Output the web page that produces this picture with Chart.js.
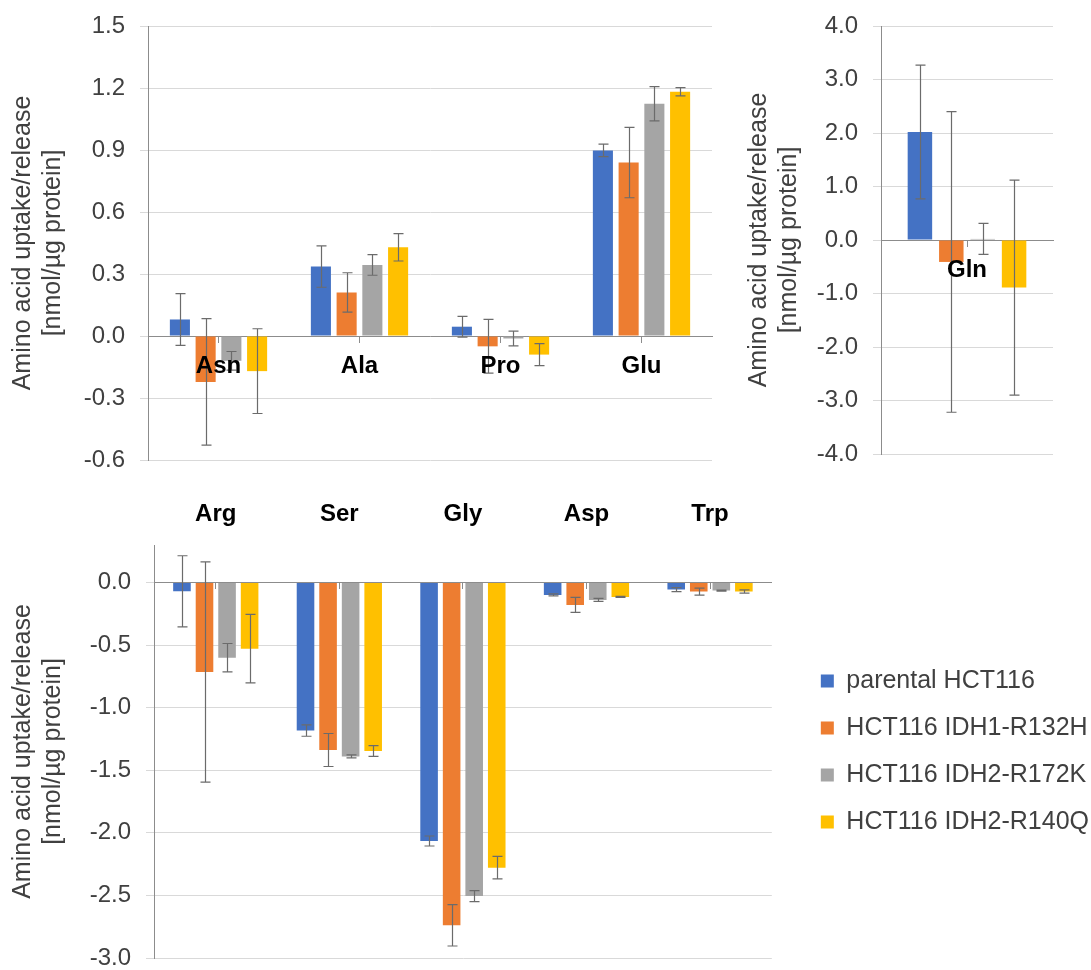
<!DOCTYPE html>
<html>
<head>
<meta charset="utf-8">
<script src="https://cdn.jsdelivr.net/npm/chart.js@4/dist/chart.umd.min.js"></script>
<style>
  html, body { margin: 0; padding: 0; background: #fff; overflow: hidden; width: 1091px; height: 970px; }
  canvas { position: absolute; }
  #topLeft { left: 0; top: 0; }
  #topRight { left: 725px; top: 0; }
  #bottom { left: 0; top: 480px; }
</style>
</head>
<body>
<canvas id="topLeft" width="725" height="480"></canvas>
<canvas id="topRight" width="366" height="480"></canvas>
<canvas id="bottom" width="1099" height="500"></canvas>
<script>
// Cell lines (legend order) and their colours
const seriesNames = ['parental HCT116', 'HCT116 IDH1-R132H', 'HCT116 IDH2-R172K', 'HCT116 IDH2-R140Q'];
const seriesColors = ['#4472C4', '#ED7D31', '#A5A5A5', '#FFC000'];
const yTitle = ['Amino acid uptake/release', '[nmol/µg protein]'];

// Panel A: released / small-flux amino acids
const acidsA = ['Asn', 'Ala', 'Pro', 'Glu'];
const parentalA = [0.08, 0.336, 0.045, 0.898];
const idh1R132hA = [-0.222, 0.211, -0.05, 0.839];
const idh2R172kA = [-0.12, 0.344, -0.012, 1.124];
const idh2R140qA = [-0.17, 0.429, -0.09, 1.182];
const parentalErrA = [0.125, 0.10, 0.05, 0.03];
const idh1R132hErrA = [0.306, 0.095, 0.13, 0.17];
const idh2R172kErrA = [0.045, 0.05, 0.036, 0.083];
const idh2R140qErrA = [0.205, 0.066, 0.053, 0.02];
const ticksA = { min: -0.6, max: 1.5, step: 0.3 };

// Panel B: glutamine
const acidsB = ['Gln'];
const parentalB = [2.017];
const idh1R132hB = [-0.41];
const idh2R172kB = [0.02];
const idh2R140qB = [-0.89];
const parentalErrB = [1.25];
const idh1R132hErrB = [2.81];
const idh2R172kErrB = [0.29];
const idh2R140qErrB = [2.01];
const ticksB = { min: -4, max: 4, step: 1 };

// Panel C: consumed amino acids
const acidsC = ['Arg', 'Ser', 'Gly', 'Asp', 'Trp'];
const parentalC = [-0.07, -1.183, -2.065, -0.099, -0.056];
const idh1R132hC = [-0.715, -1.338, -2.739, -0.179, -0.072];
const idh2R172kC = [-0.6, -1.389, -2.505, -0.139, -0.064];
const idh2R140qC = [-0.528, -1.346, -2.278, -0.115, -0.072];
const parentalErrC = [0.284, 0.045, 0.04, 0.008, 0.016];
const idh1R132hErrC = [0.88, 0.132, 0.165, 0.06, 0.028];
const idh2R172kErrC = [0.113, 0.012, 0.044, 0.012, 0.004];
const idh2R140qErrC = [0.274, 0.043, 0.09, 0.004, 0.013];
const ticksC = { min: -3, max: 0.3, step: 0.5 };

const textColor = '#404040';
const gridColor = '#d9d9d9';
const axisColor = '#8c8c8c';
const errColor = '#6b6b6b';

Chart.defaults.font.family = "'Liberation Sans', Arial, sans-serif";
Chart.defaults.color = textColor;

// Symmetric error bars drawn over each bar from its value and error
const errorBars = {
  id: 'errorBars',
  afterDatasetsDraw(chart) {
    const ctx = chart.ctx;
    const yScale = chart.scales.y;
    ctx.save();
    ctx.strokeStyle = errColor;
    ctx.lineWidth = 1.2;
    chart.data.datasets.forEach((ds, i) => {
      const meta = chart.getDatasetMeta(i);
      if (!ds.errors || meta.hidden) return;
      meta.data.forEach((bar, j) => {
        const v = ds.data[j], e = ds.errors[j];
        const x = Math.round(bar.x) + 0.5;
        const y1 = yScale.getPixelForValue(v + e);
        const y2 = yScale.getPixelForValue(v - e);
        const cap = 5;
        ctx.beginPath();
        ctx.moveTo(x, y1); ctx.lineTo(x, y2);
        ctx.moveTo(x - cap, y1); ctx.lineTo(x + cap, y1);
        ctx.moveTo(x - cap, y2); ctx.lineTo(x + cap, y2);
        ctx.stroke();
      });
    });
    ctx.restore();
  }
};

function makeDatasets(values, errors) {
  return values.map((vals, i) => ({
    label: seriesNames[i],
    data: vals,
    errors: errors[i],
    backgroundColor: seriesColors[i],
    borderWidth: 0,
    categoryPercentage: 0.73,
    barPercentage: 0.78,
    xAxisID: 'x',
    yAxisID: 'y'
  }));
}

function fmt(v) {
  return Math.abs(v) < 1e-9 ? '0.0' : Number(v).toFixed(1);
}

function valueAxis(range, width, titlePad) {
  return {
    type: 'linear',
    position: 'left',
    min: range.min,
    max: range.max,
    ticks: { stepSize: range.step, color: textColor, font: { size: 24 }, padding: 15, callback: fmt },
    grid: { color: gridColor, tickColor: gridColor, tickLength: 8 },
    border: { display: true, color: axisColor },
    title: { display: true, text: yTitle, color: textColor, font: { size: 25 }, padding: { top: titlePad, bottom: 0 } },
    afterFit: (s) => { s.width = width; s.paddingTop = 0; s.paddingBottom = 0; }
  };
}

// Category axis sitting on the zero line, labels just below it (drawn above the bars)
function zeroCategoryAxis() {
  return {
    type: 'category',
    position: { y: 0 },
    grid: { display: true, drawOnChartArea: false, offset: false, tickLength: 6, tickColor: axisColor },
    border: { display: true, color: axisColor },
    ticks: { z: 1, color: '#000', font: { size: 24, weight: 'bold' }, padding: 10, maxRotation: 0, autoSkip: false }
  };
}

const commonOpts = {
  responsive: false,
  animation: false,
  devicePixelRatio: 1,
  events: []
};

// Top-left panel
new Chart(document.getElementById('topLeft'), {
  type: 'bar',
  data: {
    labels: acidsA,
    datasets: makeDatasets([parentalA, idh1R132hA, idh2R172kA, idh2R140qA],
                           [parentalErrA, idh1R132hErrA, idh2R172kErrA, idh2R140qErrA])
  },
  options: Object.assign({}, commonOpts, {
    layout: { padding: { top: 26, bottom: 20, left: 0, right: 13 } },
    plugins: { legend: { display: false }, tooltip: { enabled: false } },
    scales: { x: zeroCategoryAxis(), y: valueAxis(ticksA, 148, 8) }
  }),
  plugins: [errorBars]
});

// Top-right panel (Gln)
new Chart(document.getElementById('topRight'), {
  type: 'bar',
  data: {
    labels: acidsB,
    datasets: makeDatasets([parentalB, idh1R132hB, idh2R172kB, idh2R140qB],
                           [parentalErrB, idh1R132hErrB, idh2R172kErrB, idh2R140qErrB])
  },
  options: Object.assign({}, commonOpts, {
    layout: { padding: { top: 26, bottom: 26, left: 0, right: 38 } },
    plugins: { legend: { display: false }, tooltip: { enabled: false } },
    scales: { x: zeroCategoryAxis(), y: valueAxis(ticksB, 156, 19) }
  }),
  plugins: [errorBars]
});

// Bottom panel with legend
const bottomY = valueAxis(ticksC, 154, 8);
bottomY.afterBuildTicks = (s) => { s.ticks = s.ticks.filter(t => t.value <= 1e-9); };

new Chart(document.getElementById('bottom'), {
  type: 'bar',
  data: {
    labels: acidsC,
    datasets: makeDatasets([parentalC, idh1R132hC, idh2R172kC, idh2R140qC],
                           [parentalErrC, idh1R132hErrC, idh2R172kErrC, idh2R140qErrC])
  },
  options: Object.assign({}, commonOpts, {
    layout: { padding: { top: 0, bottom: 22, left: 0, right: 0 } },
    plugins: {
      tooltip: { enabled: false },
      legend: {
        display: true,
        position: 'right',
        fullSize: false,
        align: 'center',
        maxWidth: 400,
        labels: { boxWidth: 13, boxHeight: 13, padding: 22, color: textColor, font: { size: 25 } }
      }
    },
    scales: {
      x: {
        type: 'category',
        position: 'top',
        grid: { display: false, drawTicks: false },
        border: { display: false },
        ticks: { color: '#000', font: { size: 24, weight: 'bold' }, padding: 16, maxRotation: 0, autoSkip: false },
        afterFit: (s) => { s.height = 65; }
      },
      xZero: {
        type: 'category',
        position: { y: 0 },
        grid: { display: true, drawOnChartArea: false, offset: false, tickLength: 6, tickColor: axisColor },
        border: { display: true, color: axisColor },
        ticks: { display: false }
      },
      y: bottomY,
      gap: {
        type: 'linear',
        position: 'right',
        display: true,
        grid: { display: false, drawTicks: false },
        border: { display: false },
        ticks: { display: false },
        afterFit: (s) => { s.width = 27; s.paddingTop = 0; s.paddingBottom = 0; }
      }
    }
  }),
  plugins: [errorBars]
});
</script>
</body>
</html>
